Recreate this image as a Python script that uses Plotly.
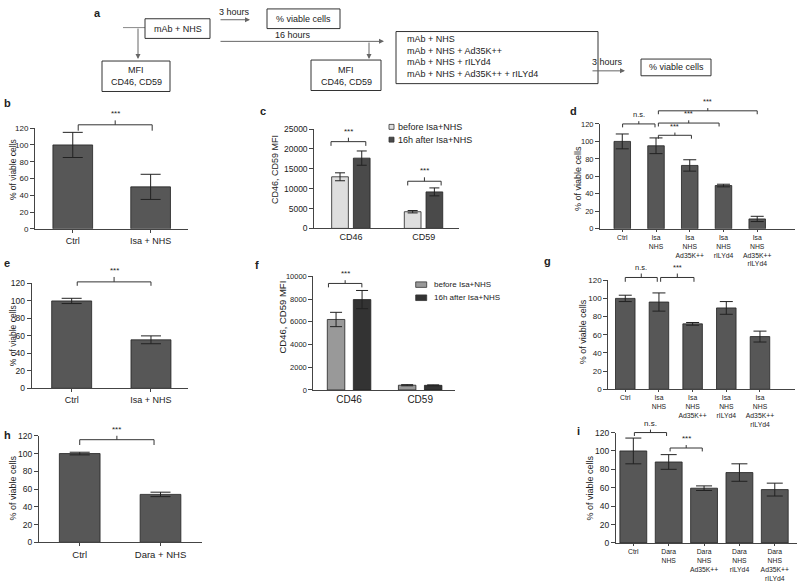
import plotly.graph_objects as go

W, H = 800, 584
FONT = "Liberation Sans, Arial, Helvetica, sans-serif"
TXT = "#222222"
AXC = "#444444"

# ---------------- data ----------------
b_categories = ["Ctrl", "Isa + NHS"]
b_values = [100, 50]
b_errors = [15, 15]

c_categories = ["CD46", "CD59"]
c_series = ["before Isa+NHS", "16h after Isa+NHS"]
c_before = [13000, 4200]
c_before_err = [1000, 300]
c_after = [17700, 9200]
c_after_err = [1800, 1000]

d_categories = ["Ctrl", "Isa<br>NHS", "Isa<br>NHS<br>Ad35K++", "Isa<br>NHS<br>rILYd4",
                "Isa<br>NHS<br>Ad35K++<br>rILYd4"]
d_values = [100, 95, 72.5, 49.5, 11.3]
d_errors = [8.5, 9, 6.5, 1.5, 3]

e_categories = ["Ctrl", "Isa + NHS"]
e_values = [100, 55.5]
e_errors = [3, 4.5]

f_categories = ["CD46", "CD59"]
f_series = ["before Isa+NHS", "16h after Isa+NHS"]
f_before = [6200, 420]
f_before_err = [630, 50]
f_after = [7950, 410]
f_after_err = [800, 40]

g_categories = ["Ctrl", "Isa<br>NHS", "Isa<br>NHS<br>Ad35K++", "Isa<br>NHS<br>rILYd4",
                "Isa<br>NHS<br>Ad35K++<br>rILYd4"]
g_values = [100, 96, 72, 89.5, 58]
g_errors = [3.5, 10, 1.5, 7, 6]

h_categories = ["Ctrl", "Dara + NHS"]
h_values = [100, 54]
h_errors = [1.5, 2.5]

i_categories = ["Ctrl", "Dara<br>NHS", "Dara<br>NHS<br>Ad35K++", "Dara<br>NHS<br>rILYd4",
                "Dara<br>NHS<br>Ad35K++<br>rILYd4"]
i_values = [100, 88, 59.5, 76.5, 58]
i_errors = [14, 8, 2.5, 9.5, 7]

viability_title = "% of viable cells"
mfi_title = "CD46, CD59 MFI"

# significance brackets: (left category idx, right category idx, level in data units, label)
b_sig = [(0.07, 1.02, 124, "***")]
c_sig = [(-0.276, 0.203, 21850, "***"), (0.78, 1.24, 11880, "***")]
d_sig = [(0.01, 0.97, 120, "n.s."), (1.07, 2.05, 107, "***"), (1.07, 2.87, 121, "***"), (1.07, 4.0, 135, "***")]
e_sig = [(0.07, 1.0, 121.8, "***")]
f_sig = [(-0.29, 0.18, 9370, "***")]
g_sig = [(0.0, 0.95, 123, "n.s."), (1.05, 2.04, 123, "***")]
h_sig = [(0.0, 0.92, 115.6, "***")]
i_sig = [(0.03, 0.94, 120, "n.s."), (1.04, 1.95, 103.2, "***")]

# ---------------- figure ----------------
fig = go.Figure()
layout_axes = {}
shapes = []
annotations = []


def ids(k):
    return ("x" if k == 1 else f"x{k}"), ("y" if k == 1 else f"y{k}")


def add_axes(k, xdom, ydom, xr, ymax, dtick, cats, xfs, yfs, xticklen=3):
    xid, yid = ids(k)
    xa = "xaxis" if k == 1 else f"xaxis{k}"
    ya = "yaxis" if k == 1 else f"yaxis{k}"
    layout_axes[xa] = dict(
        domain=[xdom[0] / W, xdom[1] / W], range=list(xr), anchor=yid,
        tickmode="array", tickvals=list(range(len(cats))), ticktext=cats,
        showline=True, linecolor=AXC, linewidth=1,
        ticks="outside" if xticklen else "", ticklen=xticklen, tickcolor=AXC,
        showgrid=False, zeroline=False, fixedrange=True,
        tickfont=dict(family=FONT, size=xfs, color=TXT))
    layout_axes[ya] = dict(
        domain=[1 - ydom[1] / H, 1 - ydom[0] / H], range=[0, ymax], anchor=xid,
        tick0=0, dtick=dtick, showline=True, linecolor=AXC, linewidth=1,
        ticks="outside", ticklen=4, tickcolor=AXC, exponentformat="none", tickformat="d",
        showgrid=False, zeroline=False, fixedrange=True,
        tickfont=dict(family=FONT, size=yfs, color=TXT))


def add_bars(k, values, errors, width, color, ew, offset=None, name=None):
    xid, yid = ids(k)
    fig.add_trace(go.Bar(
        x=list(range(len(values))), y=values, width=width, offset=offset, name=name,
        marker=dict(color=color, line=dict(color="#222222", width=0.8)),
        error_y=dict(type="data", array=errors, visible=True, color="#222222", thickness=1, width=ew),
        xaxis=xid, yaxis=yid, showlegend=False, hoverinfo="skip"))


def add_brackets(k, sig, ymax, ydom, drop, tick, fs):
    xid, yid = ids(k)
    hpx = ydom[1] - ydom[0]
    line = dict(color="#333333", width=1)
    for xl, xr, level, label in sig:
        f = level / ymax
        d = drop / hpx
        t = tick / hpx
        xm = (xl + xr) / 2
        yref = yid + " domain"
        shapes.extend([
            dict(type="line", xref=xid, yref=yref, x0=xl, x1=xr, y0=f, y1=f, line=line),
            dict(type="line", xref=xid, yref=yref, x0=xl, x1=xl, y0=f, y1=f - d, line=line),
            dict(type="line", xref=xid, yref=yref, x0=xr, x1=xr, y0=f, y1=f - d, line=line),
            dict(type="line", xref=xid, yref=yref, x0=xm, x1=xm, y0=f, y1=f + t, line=line),
        ])
        annotations.append(dict(xref=xid, yref=yref, x=xm, y=f + t, text=label, showarrow=False,
                                xanchor="center", yanchor="bottom",
                                font=dict(family=FONT, size=fs, color=TXT)))


def text(x, y, s, size=9, bold=False, angle=0, xanchor="center", align="center"):
    annotations.append(dict(xref="paper", yref="paper", x=x / W, y=1 - y / H,
                            text=f"<b>{s}</b>" if bold else s, showarrow=False,
                            xanchor=xanchor, yanchor="middle", textangle=angle, align=align,
                            font=dict(family=FONT, size=size, color=TXT)))


def rect(x0, y0, x1, y1, fill="white", lc="#333333", lw=1):
    shapes.append(dict(type="rect", xref="paper", yref="paper", x0=x0 / W, x1=x1 / W,
                       y0=1 - y1 / H, y1=1 - y0 / H, line=dict(color=lc, width=lw), fillcolor=fill))


def pline(x0, y0, x1, y1, color="#777777"):
    shapes.append(dict(type="line", xref="paper", yref="paper", x0=x0 / W, x1=x1 / W,
                       y0=1 - y0 / H, y1=1 - y1 / H, line=dict(color=color, width=1)))


def arrow(tx, ty, hx, hy, color="#666666"):
    annotations.append(dict(xref="paper", yref="paper", x=hx / W, y=1 - hy / H, ax=tx - hx, ay=ty - hy,
                            axref="pixel", ayref="pixel", text="", showarrow=True, arrowhead=2,
                            arrowsize=1, arrowwidth=1, arrowcolor=color, standoff=0, startstandoff=0))


DARK = "#575757"

# ---- panel b ----
add_axes(1, (35, 188), (125.3, 227.7), (-0.485, 1.48), 120, 20, b_categories, 9, 8)
add_bars(1, b_values, b_errors, 0.51, DARK, 10)
add_brackets(1, b_sig, 120, (125.3, 227.7), 6, 4.5, 8)

# ---- panel c ----
add_axes(2, (314.3, 459.3), (126.3, 227.3), (-0.506, 1.49), 25000, 5000, c_categories, 9, 8.5, xticklen=0)
add_bars(2, c_before, c_before_err, 0.23, "#dedede", 5, offset=-0.267, name=c_series[0])
add_bars(2, c_after, c_after_err, 0.23, "#4a4a4a", 5, offset=0.032, name=c_series[1])
add_brackets(2, c_sig, 25000, (126.3, 227.3), 4.3, 4, 8)

# ---- panel d ----
add_axes(3, (600, 795), (121, 227.7), (-0.66, 5.12), 120, 20, d_categories, 6.8, 7.5, xticklen=2)
add_bars(3, d_values, d_errors, 0.49, DARK, 6.5)
add_brackets(3, d_sig, 120, (121, 227.7), 3.5, 2.8, 7.5)

# ---- panel e ----
add_axes(4, (31.7, 188), (283.3, 390), (-0.504, 1.467), 120, 20, e_categories, 9, 8.5)
add_bars(4, e_values, e_errors, 0.504, DARK, 10)
add_brackets(4, e_sig, 120, (283.3, 390), 4, 5, 8)

# ---- panel f ----
add_axes(5, (313.3, 455), (276, 391.7), (-0.503, 1.49), 10000, 2000, f_categories, 10, 7.5, xticklen=0)
add_bars(5, f_before, f_before_err, 0.246, "#999999", 6, offset=-0.306, name=f_series[0])
add_bars(5, f_after, f_after_err, 0.246, "#333333", 6, offset=0.06, name=f_series[1])
add_brackets(5, f_sig, 10000, (276, 391.7), 4, 3.3, 8)

# ---- panel g ----
add_axes(6, (608.3, 795), (280, 391), (-0.504, 5.04), 120, 20, g_categories, 6.8, 8, xticklen=2)
add_bars(6, g_values, g_errors, 0.58, DARK, 6.5)
add_brackets(6, g_sig, 120, (280, 391), 4.4, 4, 7.5)

# ---- panel h ----
add_axes(7, (39, 201.7), (438.3, 546.7), (-0.504, 1.51), 120, 20, h_categories, 9.5, 8.5)
add_bars(7, h_values, h_errors, 0.504, DARK, 10)
add_brackets(7, h_sig, 120, (438.3, 546.7), 5.4, 4, 8)

# ---- panel i ----
add_axes(8, (616, 796.7), (435, 547.3), (-0.49, 4.62), 120, 20, i_categories, 6.8, 8.5, xticklen=2)
add_bars(8, i_values, i_errors, 0.76, DARK, 8)
add_brackets(8, i_sig, 120, (435, 547.3), 3.5, 3, 8)

# ---- y titles ----
text(13, 168, viability_title, 8.5, angle=-90)
text(275, 168, mfi_title, 9, angle=-90)
text(578, 177, viability_title, 9, angle=-90)
text(13, 337, viability_title, 8.5, angle=-90)
text(283, 318, mfi_title, 9.5, angle=-90)
text(583, 333, viability_title, 9, angle=-90)
text(13, 492, viability_title, 9, angle=-90)
text(590, 492, viability_title, 9, angle=-90)

# ---- legends (c, f) ----
rect(389, 121.5, 394, 126.5, fill="#dedede", lw=0.8)
text(396, 124, c_series[0], 9, xanchor="left")
rect(389, 134.5, 394, 139.5, fill="#4a4a4a", lw=0.8)
text(396, 137, c_series[1], 9, xanchor="left")

rect(415.7, 281.7, 426.7, 287.3, fill="#999999", lw=0.8)
text(431.7, 284.5, f_series[0], 8, xanchor="left")
rect(415.7, 295, 426.7, 300.7, fill="#333333", lw=0.8)
text(431.7, 298, f_series[1], 8, xanchor="left")

# ---- panel letters ----
for letter, (lx, ly) in {"a": (97, 8), "b": (7, 100), "c": (263, 108), "d": (573, 108),
                         "e": (7, 263), "f": (257, 265), "g": (547, 260), "h": (7, 437),
                         "i": (578, 433)}.items():
    text(lx, ly, letter, 11, bold=True)

# ---- panel a: protocol diagram ----
pline(123, 23, 145, 23, color="#888888")
rect(145, 14, 210, 34)
text(177.5, 24, "mAb + NHS", 9)
arrow(138, 23, 138, 55)
rect(102, 57, 170, 88)
text(136, 66.5, "MFI", 9)
text(136, 78.5, "CD46, CD59", 9)

text(234, 7, "3 hours", 9)
arrow(219, 15, 250, 15)
rect(267, 4, 340, 24)
text(303.5, 14, "% viable cells", 9)

text(293, 31, "16 hours", 9)
arrow(219, 37, 384, 37)
arrow(369, 37, 369, 55)
rect(311, 56, 381, 87)
text(346, 66, "MFI", 9)
text(346, 78, "CD46, CD59", 9)

rect(396, 27, 598, 80)
text(405, 52, "mAb + NHS<br>mAb + NHS + Ad35K++<br>mAb + NHS + rILYd4<br>mAb + NHS + Ad35K++ + rILYd4",
     9, xanchor="left", align="left")

text(607, 58, "3 hours", 9)
arrow(591, 67, 625, 67)
rect(641, 55, 711, 72)
text(676, 63.5, "% viable cells", 9)

fig.update_layout(
    width=W, height=H, margin=dict(l=0, r=0, t=0, b=0),
    paper_bgcolor="white", plot_bgcolor="white",
    barmode="overlay", showlegend=False, hovermode=False,
    font=dict(family=FONT, size=9, color=TXT),
    shapes=shapes, annotations=annotations,
    **layout_axes)

fig.write_html("out.html",
               config={"displayModeBar": False, "staticPlot": True},
               post_script="document.body.style.margin='0px';document.body.style.padding='0px';"
                           "document.body.style.overflow='hidden';")
